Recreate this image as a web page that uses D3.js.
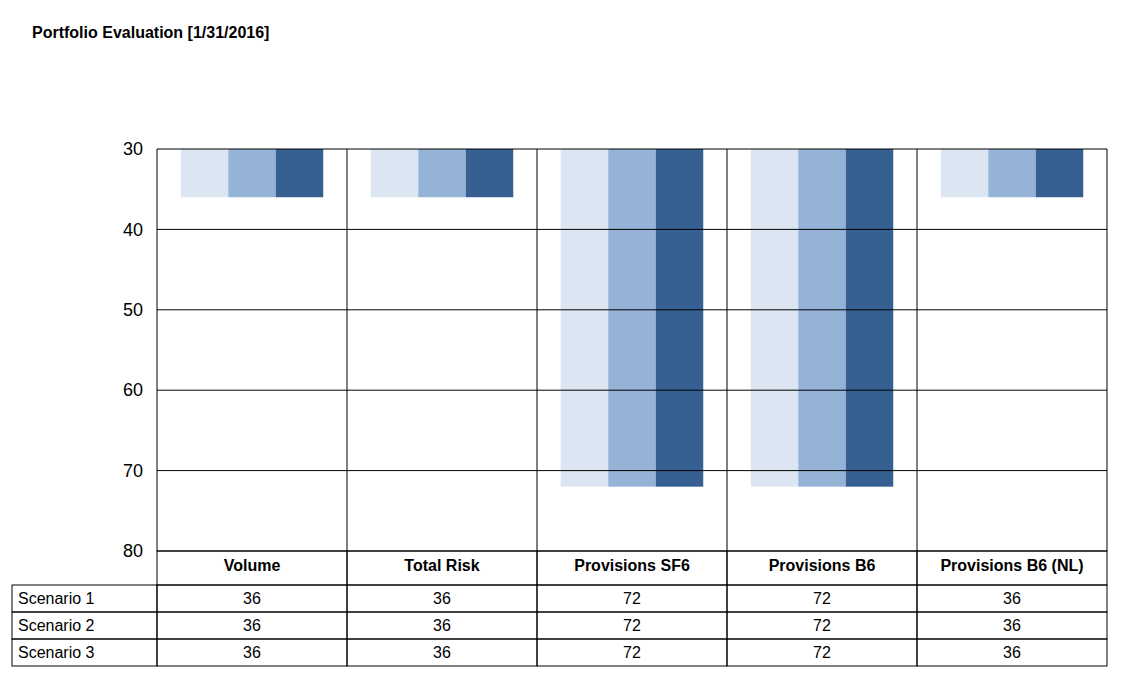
<!doctype html>
<html>
<head>
<script src="https://d3js.org/d3.v7.min.js"></script>
<style>
  body { margin: 0; background: #fff; font-family: "Liberation Sans", Arial, sans-serif; }
</style>
</head>
<body>
<div id="graphic"></div>
<script>
var categories = ["Volume", "Total Risk", "Provisions SF6", "Provisions B6", "Provisions B6 (NL)"];
var seriesNames = ["Scenario 1", "Scenario 2", "Scenario 3"];
var scenario1 = [36, 36, 72, 72, 36];
var scenario2 = [36, 36, 72, 72, 36];
var scenario3 = [36, 36, 72, 72, 36];
var yTicks = [30, 40, 50, 60, 70, 80];
var colors = ["#dce6f2", "#95b3d7", "#376092"];

var series = [scenario1, scenario2, scenario3];

var svg = d3.select("#graphic").append("svg")
  .attr("width", 1132).attr("height", 686);

svg.append("text")
  .attr("x", 32).attr("y", 38)
  .style("font-size", "16px").style("font-weight", "bold")
  .text("Portfolio Evaluation [1/31/2016]");

// plot area
var plotLeft = 157, plotRight = 1107, plotTop = 149, plotBottom = 551;

var x = d3.scaleBand().domain(categories).range([plotLeft, plotRight]);
var xs = d3.scaleBand().domain(d3.range(series.length)).range([0, x.bandwidth()]).paddingOuter(0.5).paddingInner(0);
var y = d3.scaleLinear().domain([30, 80]).range([plotTop, plotBottom]);

// bars hang from the top (reversed axis)
series.forEach(function(vals, si) {
  svg.append("g").selectAll("rect")
    .data(vals)
    .enter().append("rect")
    .attr("x", (d, i) => x(categories[i]) + xs(si))
    .attr("width", xs.bandwidth())
    .attr("y", y(30))
    .attr("height", d => y(d) - y(30))
    .style("fill", colors[si]);
});

// horizontal grid
svg.append("g").selectAll("line")
  .data(yTicks)
  .enter().append("line")
  .attr("x1", plotLeft).attr("x2", plotRight)
  .attr("y1", d => y(d)).attr("y2", d => y(d))
  .style("stroke", "#000").style("stroke-width", 1);

// y axis labels
var yAxis = d3.axisLeft(y).tickValues(yTicks).tickSize(0).tickPadding(14);
var ya = svg.append("g").attr("transform", "translate(" + plotLeft + ",0)").call(yAxis);
ya.select(".domain").remove();
ya.selectAll("text").style("font-size", "18px").style("font-family", "'Liberation Sans', Arial, sans-serif").attr("fill", "#000");

// vertical separators
var vx = categories.map(c => x(c)).concat([plotRight]);
svg.append("g").selectAll("line")
  .data(vx)
  .enter().append("line")
  .attr("x1", d => d).attr("x2", d => d)
  .attr("y1", plotTop).attr("y2", plotBottom)
  .style("stroke", "#000");

// data table
var headerH = 34, rowH = 27, labelLeft = 12;
var tbl = svg.append("g");
tbl.selectAll("rect.h")
  .data(categories)
  .enter().append("rect")
  .attr("x", d => x(d)).attr("y", plotBottom)
  .attr("width", x.bandwidth()).attr("height", headerH)
  .style("fill", "none").style("stroke", "#000");
tbl.selectAll("text.h")
  .data(categories)
  .enter().append("text")
  .attr("x", d => x(d) + x.bandwidth() / 2).attr("y", plotBottom + 20)
  .attr("text-anchor", "middle")
  .style("font-size", "16px").style("font-weight", "bold")
  .text(d => d);

series.forEach(function(vals, si) {
  var ry = plotBottom + headerH + si * rowH;
  tbl.append("rect")
    .attr("x", labelLeft).attr("y", ry)
    .attr("width", plotLeft - labelLeft).attr("height", rowH)
    .style("fill", "none").style("stroke", "#000");
  tbl.append("text")
    .attr("x", labelLeft + 6).attr("y", ry + 19)
    .style("font-size", "16px")
    .text(seriesNames[si]);
  tbl.append("g").selectAll("rect")
    .data(vals)
    .enter().append("rect")
    .attr("x", (d, i) => x(categories[i])).attr("y", ry)
    .attr("width", x.bandwidth()).attr("height", rowH)
    .style("fill", "none").style("stroke", "#000");
  tbl.append("g").selectAll("text")
    .data(vals)
    .enter().append("text")
    .attr("x", (d, i) => x(categories[i]) + x.bandwidth() / 2).attr("y", ry + 19)
    .attr("text-anchor", "middle")
    .style("font-size", "16px")
    .text(d => d);
});
</script>
</body>
</html>
